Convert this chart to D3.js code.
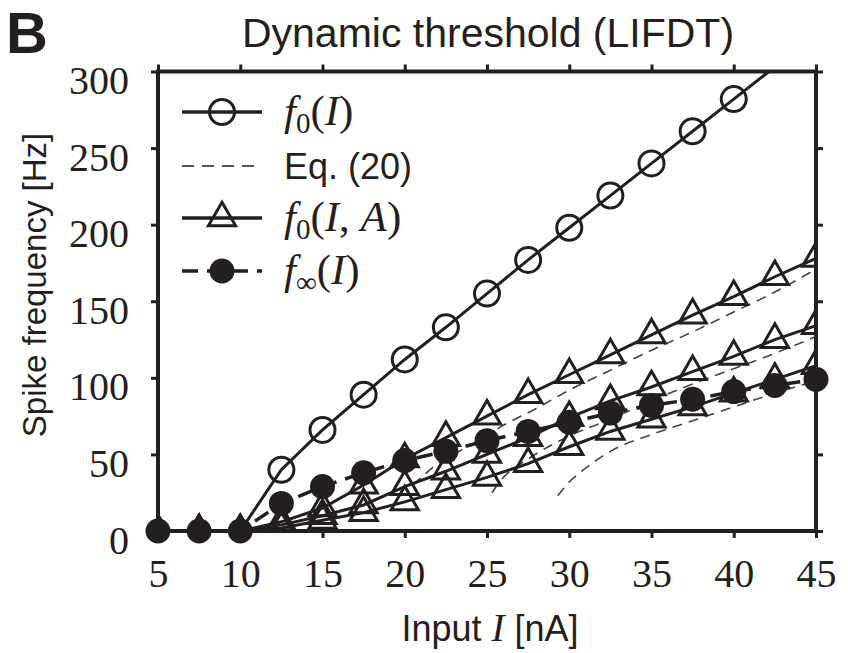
<!DOCTYPE html>
<html><head><meta charset="utf-8">
<script src="https://cdn.jsdelivr.net/npm/d3@7"></script>
<style>body{margin:0;background:#fff}svg{display:block}</style>
</head><body>
<script>
const inputs = [5,7.5,10,12.5,15,17.5,20,22.5,25,27.5,30,32.5,35,37.5,40,42.5,45];
const f0 = [0,0,0,40,66,89,112,133,155,177,198,219,240,261,282,303,null];
const fInf = [0,0,0,18,29,38,46,52,59,65,71,77,82,86,91,95,99];
const f0A1 = [0,0,0,6,15,30,47,61,75,89,102,115,128,141,153,166,178];
const f0A2 = [0,0,0,4,10,17,29,39,50,61,74,85,94,104,114,125,134];
const f0A3 = [0,0,0,2,7,12,19,27,35,44,55,65,73,81,90,99,108];
const eqI1 = [20.5,22,24,26,28,30,32.5,35,37.5,40,42.5,45];
const eqV1 = [30,44,56,69,80,92,105,118,130,143,156,171];
const eqI2 = [25.3,26,27.5,30,32.5,35,37.5,40,42.5,45];
const eqV2 = [25,35,47,62,73,85,96,106,116,127];
const eqI3 = [29.3,30,31,32.5,35,37.5,40,42.5,45];
const eqV3 = [23,32,41,52,63,72,81,90,98];
const xTicks = [5,10,15,20,25,30,35,40,45];
const yTicks = [0,50,100,150,200,250,300];

const W = 848, H = 653;
const m = {l:158, r:816, t:71.5, b:531};
const svg = d3.select("body").append("svg").attr("width",W).attr("height",H);
const x = d3.scaleLinear().domain([5,45]).range([m.l,m.r]);
const y = d3.scaleLinear().domain([0,300]).range([m.b,m.t]);

svg.append("defs").append("clipPath").attr("id","clip")
  .append("rect").attr("x",m.l).attr("y",m.t).attr("width",m.r-m.l).attr("height",m.b-m.t);

const serif = "'Liberation Serif','Times New Roman',serif";
const sans = "'Liberation Sans',Arial,Helvetica,sans-serif";
const ink = "#231f20";
function styleAxis(g, labels){
  g.select(".domain").remove();
  g.selectAll(".tick line").attr("stroke",ink).attr("stroke-width",3);
  g.selectAll(".tick text").attr("font-family",serif).attr("font-size",40).attr("fill",ink);
  if(!labels) g.selectAll(".tick text").remove();
}
svg.append("g").attr("transform",`translate(0,${m.b})`)
  .call(d3.axisBottom(x).tickValues(xTicks).tickSize(7).tickSizeOuter(0).tickPadding(21))
  .call(g=>styleAxis(g,true));
svg.append("g").attr("transform",`translate(0,${m.t})`)
  .call(d3.axisTop(x).tickValues(xTicks).tickSize(7).tickSizeOuter(0))
  .call(g=>styleAxis(g,false));
svg.append("g").attr("transform",`translate(${m.l},0)`)
  .call(d3.axisLeft(y).tickValues(yTicks).tickSize(7).tickSizeOuter(0).tickPadding(22))
  .call(g=>styleAxis(g,true))
  .call(g=>g.selectAll(".tick text").attr("dy","0.55em"));
svg.append("g").attr("transform",`translate(${m.r},0)`)
  .call(d3.axisRight(y).tickValues(yTicks).tickSize(7).tickSizeOuter(0))
  .call(g=>styleAxis(g,false));

svg.append("rect").attr("x",m.l).attr("y",m.t).attr("width",m.r-m.l).attr("height",m.b-m.t)
  .attr("fill","none").attr("stroke",ink).attr("stroke-width",4);

const plot = svg.append("g").attr("clip-path","url(#clip)");
const line = d3.line().defined(d=>d[1]!=null).x(d=>x(d[0])).y(d=>y(d[1])).curve(d3.curveLinear);
const smooth = d3.line().x(d=>x(d[0])).y(d=>y(d[1])).curve(d3.curveMonotoneX);

[[eqI1,eqV1],[eqI2,eqV2],[eqI3,eqV3]].forEach(([I,V])=>{
  plot.append("path").datum(I.map((v,i)=>[v,V[i]])).attr("d",smooth)
    .attr("fill","none").attr("stroke","#444").attr("stroke-width",1.6).attr("stroke-dasharray","10,7");
});

const tri = d3.symbol().type(d3.symbolTriangle).size(320);
[f0A1,f0A2,f0A3].forEach(V=>{
  const pts = inputs.map((v,i)=>[v,V[i]]);
  plot.append("path").datum(pts).attr("d",line).attr("fill","none").attr("stroke",ink).attr("stroke-width",3);
  plot.selectAll(null).data(pts).enter().append("path").attr("d",tri)
    .attr("transform",d=>`translate(${x(d[0])},${y(d[1])})`)
    .attr("fill","none").attr("stroke",ink).attr("stroke-width",3);
});

const ptsInf = inputs.map((v,i)=>[v,fInf[i]]);
svg.append("path").datum(ptsInf).attr("d",line).attr("fill","none").attr("stroke",ink)
  .attr("stroke-width",3.5).attr("stroke-dasharray","16,9");
svg.selectAll(null).data(ptsInf).enter().append("circle")
  .attr("cx",d=>x(d[0])).attr("cy",d=>y(d[1])).attr("r",12.5).attr("fill",ink);

const pts0 = inputs.map((v,i)=>[v,f0[i]]);
plot.append("path").datum(pts0).attr("d",line).attr("fill","none").attr("stroke",ink).attr("stroke-width",3);
svg.selectAll(null).data(pts0.filter(d=>d[1]!=null && d[1]<=300 && d[1]>0)).enter().append("circle")
  .attr("cx",d=>x(d[0])).attr("cy",d=>y(d[1])).attr("r",12.5).attr("fill","none").attr("stroke",ink).attr("stroke-width",3);

// legend
const lx0 = 182, lx1 = 262, tx = 284;
const rows = [112,166,218,271];
function mathLabel(g, yy, sub, args){
  const t = g.append("text").attr("x",tx).attr("y",yy+13).attr("font-family",serif).attr("font-size",43).attr("fill",ink);
  t.append("tspan").attr("font-style","italic").text("f");
  t.append("tspan").attr("font-size",29).attr("dy",8).text(sub);
  t.append("tspan").attr("dy",-8).text("(");
  args.forEach((a,i)=>{
    if(i>0) t.append("tspan").text(", ");
    t.append("tspan").attr("font-style","italic").text(a);
  });
  t.append("tspan").text(")");
}
const lg = svg.append("g");
lg.append("line").attr("x1",lx0).attr("x2",lx1).attr("y1",rows[0]).attr("y2",rows[0]).attr("stroke",ink).attr("stroke-width",3.5);
lg.append("circle").attr("cx",(lx0+lx1)/2).attr("cy",rows[0]).attr("r",12.5).attr("fill","none").attr("stroke",ink).attr("stroke-width",3);
mathLabel(lg, rows[0], "0", ["I"]);
lg.append("line").attr("x1",lx0).attr("x2",lx1).attr("y1",rows[1]).attr("y2",rows[1]).attr("stroke","#555").attr("stroke-width",1.8).attr("stroke-dasharray","12,8");
lg.append("text").attr("x",tx).attr("y",rows[1]+13).attr("font-family",sans).attr("font-size",36).attr("fill",ink).text("Eq. (20)");
lg.append("line").attr("x1",lx0).attr("x2",lx1).attr("y1",rows[2]).attr("y2",rows[2]).attr("stroke",ink).attr("stroke-width",3.5);
lg.append("path").attr("d",tri).attr("transform",`translate(${(lx0+lx1)/2},${rows[2]})`).attr("fill","none").attr("stroke",ink).attr("stroke-width",3);
mathLabel(lg, rows[2], "0", ["I","A"]);
lg.append("line").attr("x1",lx0).attr("x2",lx1).attr("y1",rows[3]).attr("y2",rows[3]).attr("stroke",ink).attr("stroke-width",3.5).attr("stroke-dasharray","16,9");
lg.append("circle").attr("cx",(lx0+lx1)/2).attr("cy",rows[3]).attr("r",12.5).attr("fill",ink);
mathLabel(lg, rows[3], "\u221E", ["I"]);

svg.append("text").attr("x",6).attr("y",53).attr("font-family",sans).attr("font-weight","bold").attr("font-size",58).attr("fill",ink).text("B");
svg.append("text").attr("x",488).attr("y",47).attr("text-anchor","middle").attr("font-family",sans).attr("font-size",41).attr("fill",ink).text("Dynamic threshold (LIFDT)");
svg.append("text").attr("transform","translate(46,285) rotate(-90)").attr("text-anchor","middle").attr("font-family",sans).attr("font-size",33).attr("fill",ink).text("Spike frequency [Hz]");
const xl = svg.append("text").attr("x",490).attr("y",641).attr("text-anchor","middle").attr("font-family",sans).attr("font-size",36).attr("fill",ink);
xl.append("tspan").text("Input ");
xl.append("tspan").attr("font-family",serif).attr("font-style","italic").attr("font-size",39).text("I");
xl.append("tspan").text(" [nA]");
</script>
</body></html>
